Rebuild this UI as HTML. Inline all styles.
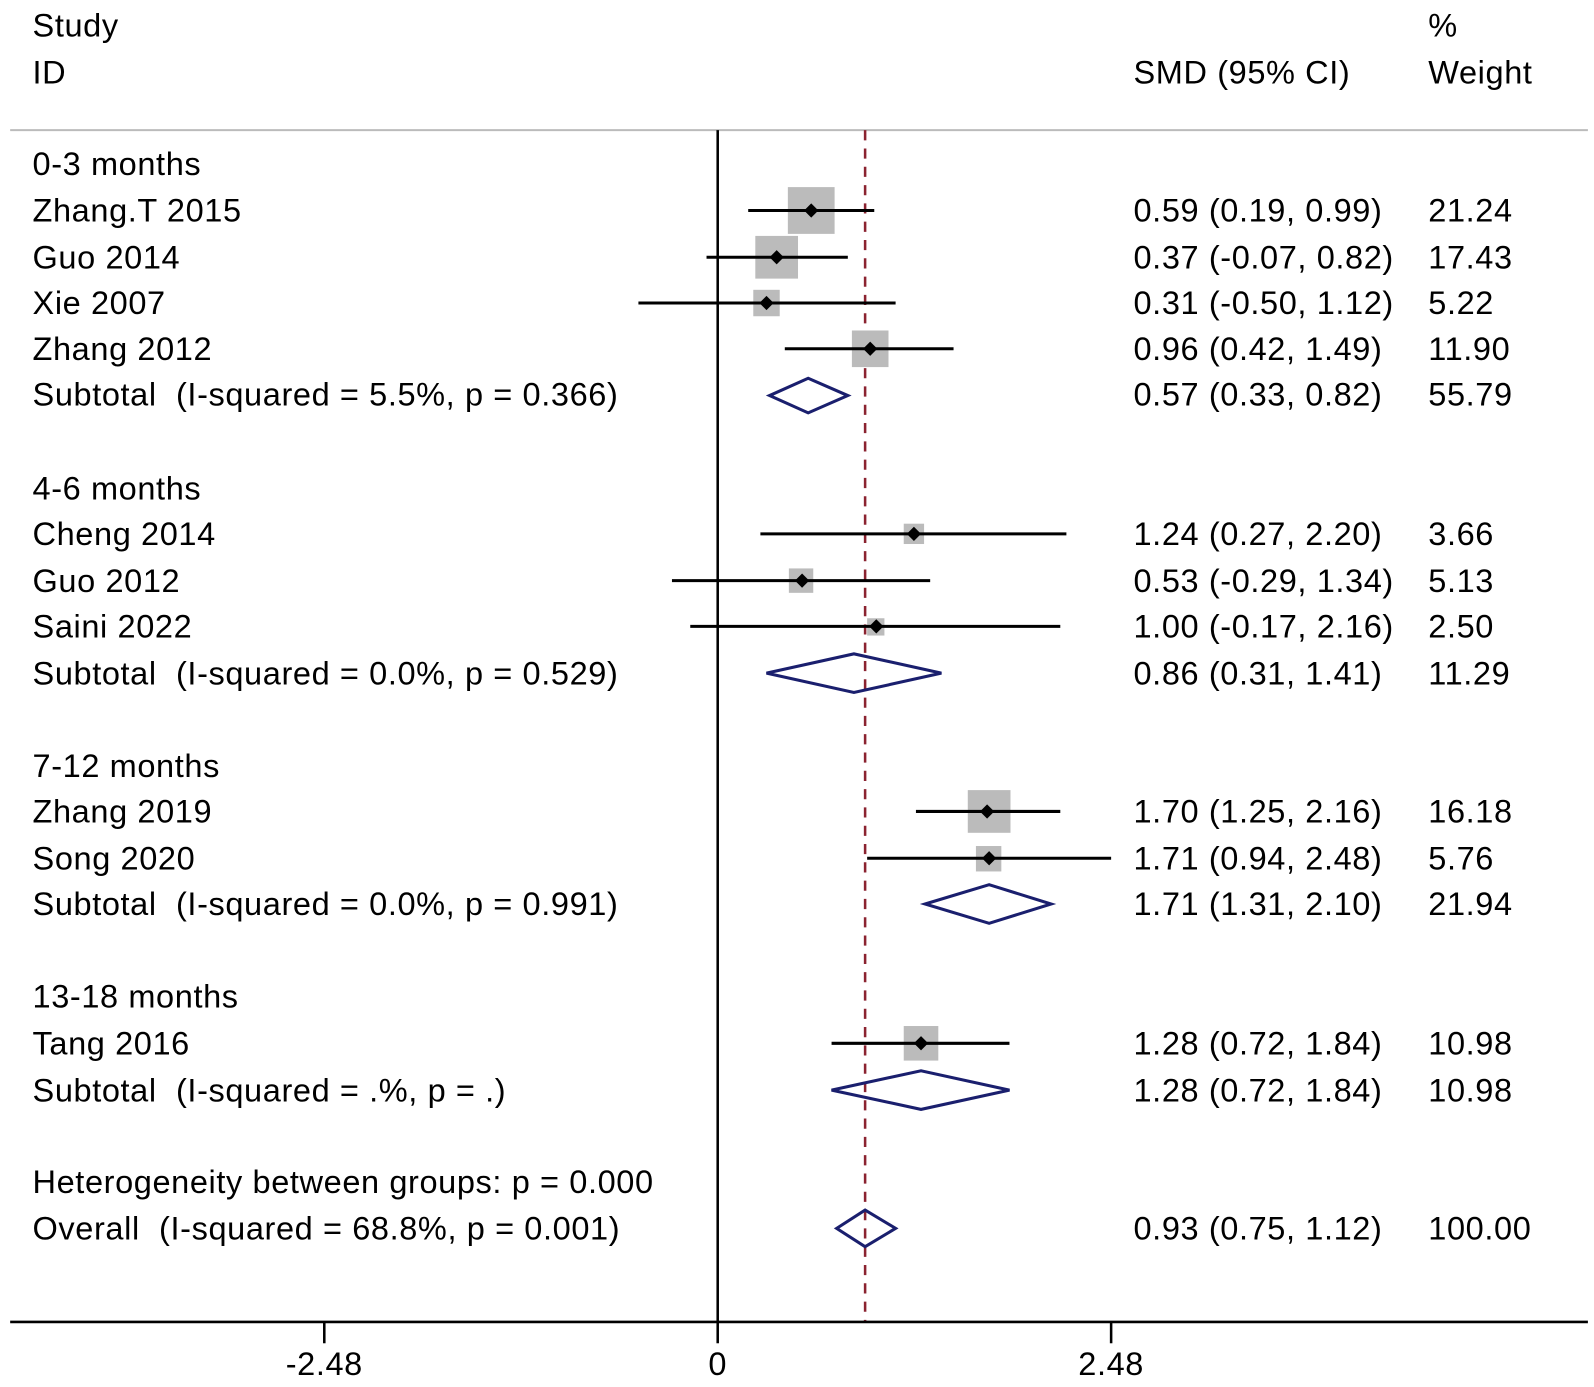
<!DOCTYPE html>
<html><head><style>html,body{margin:0;padding:0;background:#fff;overflow:hidden;width:1594px;height:1387px}svg{display:block}</style></head><body>
<svg width="1594" height="1387" viewBox="0 0 1568 1364" preserveAspectRatio="none" xmlns="http://www.w3.org/2000/svg" font-family="Liberation Sans, Arial, sans-serif" font-size="32" letter-spacing="0.6" fill="#000">
<rect width="1568" height="1364" fill="#fff"/>
<line x1="10" y1="128" x2="1562" y2="128" stroke="#bbb" stroke-width="2"/>
<line x1="706" y1="128" x2="706" y2="1300" stroke="#000" stroke-width="2.5"/>
<line x1="851" y1="128" x2="851" y2="1300" stroke="#8b2330" stroke-width="2.5" stroke-dasharray="10,8"/>
<line x1="10" y1="1300" x2="1562" y2="1300" stroke="#000" stroke-width="2.5"/>
<line x1="319" y1="1300" x2="319" y2="1321" stroke="#000" stroke-width="2.5"/>
<line x1="706" y1="1300" x2="706" y2="1321" stroke="#000" stroke-width="2.5"/>
<line x1="1093" y1="1300" x2="1093" y2="1321" stroke="#000" stroke-width="2.5"/>
<text x="319" y="1352" text-anchor="middle">-2.48</text>
<text x="706" y="1352" text-anchor="middle">0</text>
<text x="1093" y="1352" text-anchor="middle">2.48</text>

<g>
<text x="32" y="36">Study</text>
<text x="32" y="82">ID</text>
<text x="1115" y="82">SMD (95% CI)</text>
<text x="1405" y="36">%</text>
<text x="1405" y="82">Weight</text>

<text x="32" y="172">0-3 months</text>
<text x="32" y="218">Zhang.T 2015</text><text x="1115" y="218">0.59 (0.19, 0.99)</text><text x="1405" y="218">21.24</text>
<text x="32" y="264">Guo 2014</text><text x="1115" y="264">0.37 (-0.07, 0.82)</text><text x="1405" y="264">17.43</text>
<text x="32" y="309">Xie 2007</text><text x="1115" y="309">0.31 (-0.50, 1.12)</text><text x="1405" y="309">5.22</text>
<text x="32" y="354">Zhang 2012</text><text x="1115" y="354">0.96 (0.42, 1.49)</text><text x="1405" y="354">11.90</text>
<text x="32" y="399">Subtotal&#160; (I-squared = 5.5%, p = 0.366)</text><text x="1115" y="399">0.57 (0.33, 0.82)</text><text x="1405" y="399">55.79</text>

<text x="32" y="491">4-6 months</text>
<text x="32" y="536">Cheng 2014</text><text x="1115" y="536">1.24 (0.27, 2.20)</text><text x="1405" y="536">3.66</text>
<text x="32" y="582">Guo 2012</text><text x="1115" y="582">0.53 (-0.29, 1.34)</text><text x="1405" y="582">5.13</text>
<text x="32" y="627">Saini 2022</text><text x="1115" y="627">1.00 (-0.17, 2.16)</text><text x="1405" y="627">2.50</text>
<text x="32" y="673">Subtotal&#160; (I-squared = 0.0%, p = 0.529)</text><text x="1115" y="673">0.86 (0.31, 1.41)</text><text x="1405" y="673">11.29</text>

<text x="32" y="764">7-12 months</text>
<text x="32" y="809">Zhang 2019</text><text x="1115" y="809">1.70 (1.25, 2.16)</text><text x="1405" y="809">16.18</text>
<text x="32" y="855">Song 2020</text><text x="1115" y="855">1.71 (0.94, 2.48)</text><text x="1405" y="855">5.76</text>
<text x="32" y="900">Subtotal&#160; (I-squared = 0.0%, p = 0.991)</text><text x="1115" y="900">1.71 (1.31, 2.10)</text><text x="1405" y="900">21.94</text>

<text x="32" y="991">13-18 months</text>
<text x="32" y="1037">Tang 2016</text><text x="1115" y="1037">1.28 (0.72, 1.84)</text><text x="1405" y="1037">10.98</text>
<text x="32" y="1083">Subtotal&#160; (I-squared = .%, p = .)</text><text x="1115" y="1083">1.28 (0.72, 1.84)</text><text x="1405" y="1083">10.98</text>

<text x="32" y="1173">Heterogeneity between groups: p = 0.000</text>
<text x="32" y="1219">Overall&#160; (I-squared = 68.8%, p = 0.001)</text><text x="1115" y="1219">0.93 (0.75, 1.12)</text><text x="1405" y="1219">100.00</text>
</g>

<g fill="#bbb">
<rect x="775" y="184" width="46" height="46"/>
<rect x="743" y="232" width="42" height="42"/>
<rect x="741" y="285" width="26" height="26"/>
<rect x="838" y="325" width="36" height="36"/>
<rect x="889" y="515" width="20" height="20"/>
<rect x="776" y="559" width="24" height="24"/>
<rect x="853" y="608" width="17" height="17"/>
<rect x="952" y="777" width="42" height="42"/>
<rect x="960" y="832" width="25" height="25"/>
<rect x="889" y="1009" width="34" height="34"/>
</g>
<g stroke="#000" stroke-width="3">
<line x1="736" y1="207" x2="860" y2="207"/>
<line x1="695" y1="253" x2="834" y2="253"/>
<line x1="628" y1="298" x2="881" y2="298"/>
<line x1="772" y1="343" x2="938" y2="343"/>
<line x1="748" y1="525" x2="1049" y2="525"/>
<line x1="661" y1="571" x2="915" y2="571"/>
<line x1="679" y1="616" x2="1043" y2="616"/>
<line x1="901" y1="798" x2="1043" y2="798"/>
<line x1="853" y1="844" x2="1093" y2="844"/>
<line x1="818" y1="1026" x2="993" y2="1026"/>
</g>
<g fill="#000">
<polygon points="798,200 805,207 798,214 791,207"/>
<polygon points="764,246 771,253 764,260 757,253"/>
<polygon points="754,291 761,298 754,305 747,298"/>
<polygon points="856,336 863,343 856,350 849,343"/>
<polygon points="899,518 906,525 899,532 892,525"/>
<polygon points="789,564 796,571 789,578 782,571"/>
<polygon points="862,609 869,616 862,623 855,616"/>
<polygon points="971,791 978,798 971,805 964,798"/>
<polygon points="973,837 980,844 973,851 966,844"/>
<polygon points="906,1019 913,1026 906,1033 899,1026"/>
</g>
<g fill="none" stroke="#1a1f6e" stroke-width="3">
<polygon points="757,389 795,372 834,389 795,406"/>
<polygon points="754,662 840,643 926,662 840,681"/>
<polygon points="910,889 973,870 1034,889 973,908"/>
<polygon points="818,1072 906,1053 993,1072 906,1091"/>
<polygon points="823,1208 851,1190 881,1208 851,1226"/>
</g>
</svg>
</body></html>
